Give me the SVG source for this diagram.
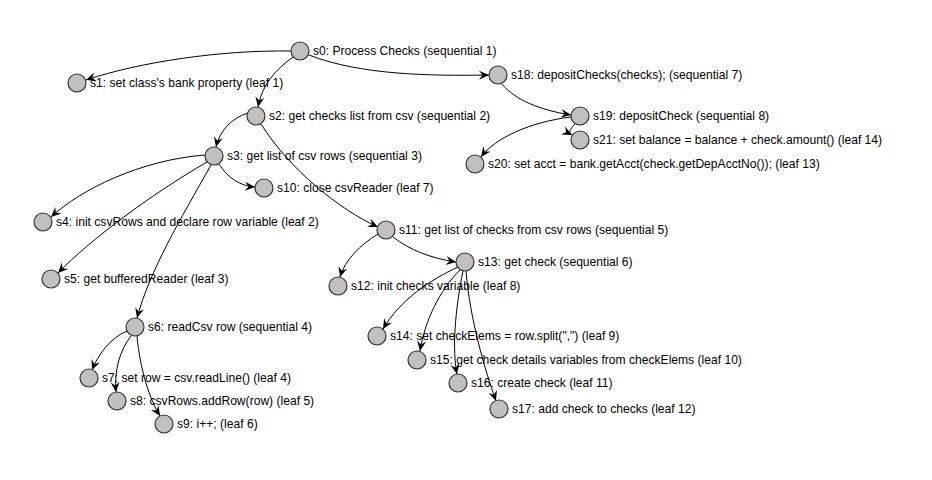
<svg xmlns="http://www.w3.org/2000/svg" width="932" height="480" viewBox="0 0 932 480">
<style>
.n circle{fill:#c0c0c0;stroke:#333;stroke-width:1.2}
.n text{font-family:"Liberation Sans",Arial,sans-serif;font-size:12.1px;fill:#000}
.e path{fill:none;stroke:#000;stroke-width:1;marker-end:url(#a)}
</style>
<defs>
<marker id="a" markerUnits="userSpaceOnUse" markerWidth="12" markerHeight="12" viewBox="-1 -6 12 12" refX="10" refY="0" orient="auto">
<path d="M0,-4.5 L10,0 L0,4.5 L3.5,0 z" fill="#000"/>
</marker>
</defs>
<rect width="932" height="480" fill="#fff"/>
<g id="edges" class="e">
<path d="M291,51 C220,50 140,62 86,80"/>
<path d="M293,57 C275,70 262,85 258,107"/>
<path d="M309,55 C360,75 430,76 489,75"/>
<path d="M502,84 C515,100 540,110 571,115"/>
<path d="M575,124 C570,129 568,133 572,135"/>
<path d="M571,117 C530,122 495,138 481,157"/>
<path d="M248,113 C232,118 220,130 216,147"/>
<path d="M261,124 C290,170 340,210 378,227"/>
<path d="M205,155 C140,160 80,190 51,217"/>
<path d="M207,162 C150,195 90,240 58,273"/>
<path d="M211,165 C180,220 150,270 137,318"/>
<path d="M219,164 C228,178 240,186 255,187"/>
<path d="M378,234 C360,245 345,260 340,277"/>
<path d="M393,237 C410,250 430,258 456,262"/>
<path d="M458,267 C430,280 400,300 383,329"/>
<path d="M460,270 C440,290 425,320 420,351"/>
<path d="M463,271 C455,310 452,350 457,374"/>
<path d="M466,271 C470,320 485,370 496,401"/>
<path d="M127,331 C110,338 98,355 92,370"/>
<path d="M131,336 C120,350 114,370 116,392"/>
<path d="M137,336 C140,370 150,400 160,416"/>
</g>
<g id="s0" class="n"><circle cx="300" cy="51" r="9"/><text x="313" y="55">s0: Process Checks (sequential 1)</text></g>
<g id="s1" class="n"><circle cx="77" cy="83" r="9"/><text x="90" y="87">s1: set class's bank property (leaf 1)</text></g>
<g id="s2" class="n"><circle cx="256" cy="116" r="9"/><text x="269" y="120">s2: get checks list from csv (sequential 2)</text></g>
<g id="s3" class="n"><circle cx="214" cy="156" r="9"/><text x="227" y="160">s3: get list of csv rows (sequential 3)</text></g>
<g id="s4" class="n"><circle cx="43" cy="222" r="9"/><text x="56" y="226">s4: init csvRows and declare row variable (leaf 2)</text></g>
<g id="s5" class="n"><circle cx="51" cy="279" r="9"/><text x="64" y="283">s5: get bufferedReader (leaf 3)</text></g>
<g id="s6" class="n"><circle cx="135" cy="327" r="9"/><text x="148" y="331">s6: readCsv row (sequential 4)</text></g>
<g id="s7" class="n"><circle cx="89" cy="378" r="9"/><text x="102" y="382">s7: set row = csv.readLine() (leaf 4)</text></g>
<g id="s8" class="n"><circle cx="117" cy="401" r="9"/><text x="130" y="405">s8: csvRows.addRow(row) (leaf 5)</text></g>
<g id="s9" class="n"><circle cx="164" cy="424" r="9"/><text x="177" y="428">s9: i++; (leaf 6)</text></g>
<g id="s10" class="n"><circle cx="264" cy="188" r="9"/><text x="277" y="192">s10: close csvReader (leaf 7)</text></g>
<g id="s11" class="n"><circle cx="386" cy="230" r="9"/><text x="399" y="234">s11: get list of checks from csv rows (sequential 5)</text></g>
<g id="s12" class="n"><circle cx="338" cy="286" r="9"/><text x="351" y="290">s12: init checks variable (leaf 8)</text></g>
<g id="s13" class="n"><circle cx="465" cy="262" r="9"/><text x="478" y="266">s13: get check (sequential 6)</text></g>
<g id="s14" class="n"><circle cx="377" cy="336" r="9"/><text x="390" y="340">s14: set checkElems = row.split(",") (leaf 9)</text></g>
<g id="s15" class="n"><circle cx="417" cy="360" r="9"/><text x="430" y="364">s15: get check details variables from checkElems (leaf 10)</text></g>
<g id="s16" class="n"><circle cx="458" cy="383" r="9"/><text x="471" y="387">s16: create check (leaf 11)</text></g>
<g id="s17" class="n"><circle cx="499" cy="409" r="9"/><text x="512" y="413">s17: add check to checks (leaf 12)</text></g>
<g id="s18" class="n"><circle cx="498" cy="75" r="9"/><text x="511" y="79">s18: depositChecks(checks); (sequential 7)</text></g>
<g id="s19" class="n"><circle cx="580" cy="116" r="9"/><text x="593" y="120">s19: depositCheck (sequential 8)</text></g>
<g id="s21" class="n"><circle cx="580" cy="140" r="9"/><text x="593" y="144">s21: set balance = balance + check.amount() (leaf 14)</text></g>
<g id="s20" class="n"><circle cx="475" cy="164" r="9"/><text x="488" y="168">s20: set acct = bank.getAcct(check.getDepAcctNo()); (leaf 13)</text></g>
</svg>
